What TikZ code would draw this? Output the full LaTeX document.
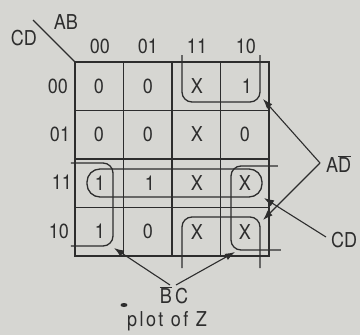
\documentclass[tikz,border=0pt]{standalone}
\usepackage{fontspec}
\setmainfont{TeX Gyre Heros}[FakeStretch=0.88]
\usetikzlibrary{arrows.meta}
\definecolor{paper}{RGB}{214,214,210}
\definecolor{ink}{RGB}{45,45,45}
\tikzset{
  lbl/.style={font=\fontsize{20.5}{22}\selectfont, text=ink, inner sep=0pt},
  gridline/.style={draw=ink, line width=1.7pt},
  loop/.style={draw=ink, line width=1.3pt, rounded corners=10pt},
  ptr/.style={draw=ink, line width=1.1pt, -{Latex[length=10pt,width=7pt]}},
  ptrline/.style={draw=ink, line width=1.1pt}
}
\begin{document}
\begin{tikzpicture}[x=1pt,y=-1pt]
\fill[paper] (0,0) rectangle (360,335);
\useasboundingbox (0,0) rectangle (360,335);
% grid
\draw[gridline] (75,62) rectangle (269,256);
\foreach \x in {123.5,172,220.5} \draw[gridline] (\x,62) -- (\x,256);
\foreach \y in {110.5,159,207.5} \draw[gridline] (75,\y) -- (269,\y);
% corner label
\draw[ink, line width=1.1pt] (33,20) -- (75,62);
\node[lbl] (ab) at (66,22) {AB};
\node[lbl] (cd) at (24,38) {CD};
% column headers
\node[lbl] (c00) at (100,46) {00};
\node[lbl] (c01) at (148,46) {01};
\node[lbl] (c11) at (197,46) {11};
\node[lbl] (c10) at (246,46) {10};
% row headers
\node[lbl] (r00) at (58,86) {00};
\node[lbl] (r01) at (60,134) {01};
\node[lbl] (r11) at (62,182) {11};
\node[lbl] (r10) at (59,231) {10};
% cells
\node[lbl] (m00) at (99,86) {0};
\node[lbl] (m01) at (148,86) {0};
\node[lbl] (m02) at (197,86) {X};
\node[lbl] (m03) at (247,86) {1};
\node[lbl] (m10) at (99,134) {0};
\node[lbl] (m11) at (148,134) {0};
\node[lbl] (m12) at (197,134) {X};
\node[lbl] (m13) at (245,134) {0};
\node[lbl] (m20) at (100,183) {1};
\node[lbl] (m21) at (150,183) {1};
\node[lbl] (m22) at (197,183) {X};
\node[lbl] (m23) at (245,183) {X};
\node[lbl] (m30) at (100,231) {1};
\node[lbl] (m31) at (148,231) {0};
\node[lbl] (m32) at (197,232) {X};
\node[lbl] (m33) at (245,232) {X};
% loops
\draw[loop] (182,55) -- (182,102) -- (260,102) -- (260,55);
\draw[loop] (182,268) -- (182,217) -- (260,217) -- (260,268);
\draw[loop, rounded corners=13pt] (87,169) rectangle (262,197);
\draw[loop] (71,163) -- (113,163) -- (113,246) -- (71,246);
\draw[loop] (278,166) -- (231,166) -- (231,250) -- (281,250);
% pointer targets
\coordinate (adtop) at (263,99);
\coordinate (adbot) at (263,220);
\coordinate (cdloop) at (264,198);
\coordinate (bcleft) at (114,248);
\coordinate (bcright) at (235,252);
\coordinate (adapex) at (320,163);
\coordinate (cdstart) at (326,237);
\coordinate (bcapexl) at (170,285);
\coordinate (bcapexr) at (176,285);
% labels
\node[lbl, anchor=west] (adl) at (326,164) {A$\overline{\hbox{D}}$};
\node[lbl, anchor=west] (cdl) at (331,240) {CD};
\node[lbl] (bcl) at (174,295) {$\overline{\hbox{B}}$\,C};
\node[lbl] (plot) at (167,321) {\addfontfeature{LetterSpace=12}plot of Z};
\fill[ink] (124,305) ellipse (3.5pt and 2pt);
% pointers
\draw[ptr] (adapex) -- (adtop);
\draw[ptr] (adapex) -- (adbot);
\draw[ptr] (cdstart) -- (cdloop);
\draw[ptr] (bcapexl) -- (bcleft);
\draw[ptr] (bcapexr) -- (bcright);
\end{tikzpicture}
\end{document}
